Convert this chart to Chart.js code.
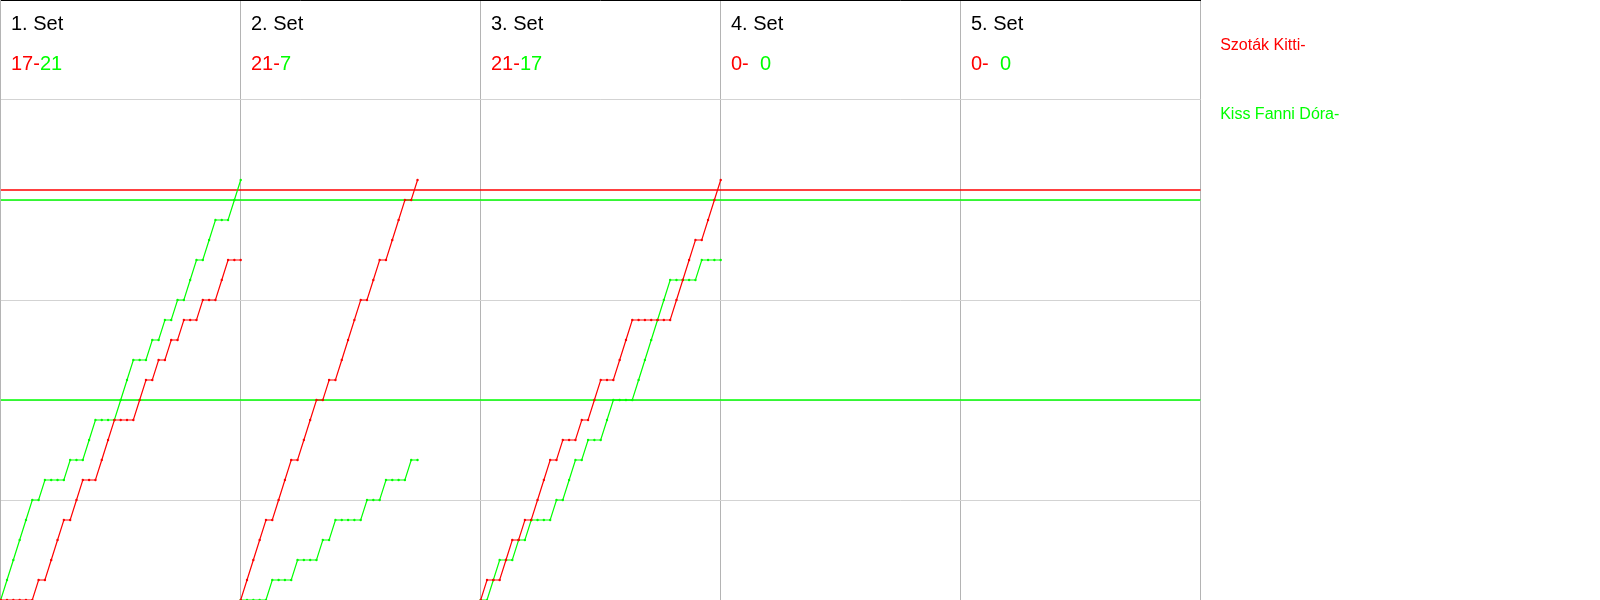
<!DOCTYPE html>
<html>
<head>
<meta charset="utf-8">
<script src="https://cdn.jsdelivr.net/npm/chart.js@4.4.1/dist/chart.umd.min.js"></script>
<style>
  html, body { margin: 0; padding: 0; background: #ffffff; }
  #wrap { position: absolute; left: 0; top: 0; width: 1600px; height: 600px; }
</style>
</head>
<body>
<div id="wrap"><canvas id="c"></canvas></div>
<script>
// ---- data ----
const setTitles = ['1. Set', '2. Set', '3. Set', '4. Set', '5. Set'];
const playerRed = 'Szoták Kitti';
const playerGreen = 'Kiss Fanni Dóra';
const finalRed = [17, 21, 21, 0, 0];
const finalGreen = [21, 7, 17, 0, 0];

// cumulative score after each rally (index 0 = start of set)
const set1Red   = [0,0,0,0,0,0,1,1,2,3,4,4,5,6,6,6,7,8,9,9,9,9,10,11,11,12,12,13,13,14,14,14,15,15,15,16,17,17,17];
const set1Green = [0,1,2,3,4,5,5,6,6,6,6,7,7,7,8,9,9,9,9,10,11,12,12,12,13,13,14,14,15,15,16,17,17,18,19,19,19,20,21];
const set2Red   = [0,1,2,3,4,4,5,6,7,7,8,9,10,10,11,11,12,13,14,15,15,16,17,17,18,19,20,20,21];
const set2Green = [0,0,0,0,0,1,1,1,1,2,2,2,2,3,3,4,4,4,4,4,5,5,5,6,6,6,6,7,7];
const set3Red   = [0,1,1,1,2,3,3,4,4,5,6,7,7,8,8,8,9,9,10,11,11,11,12,13,14,14,14,14,14,14,14,15,16,17,18,18,19,20,21];
const set3Green = [0,0,1,2,2,2,3,3,4,4,4,4,5,5,6,7,7,8,8,8,9,10,10,10,10,11,12,13,14,15,16,16,16,16,16,17,17,17,17];
const redSeries = [set1Red, set2Red, set3Red, [], []];
const greenSeries = [set1Green, set2Green, set3Green, [], []];

const setBoundaries = [0, 38, 76, 114, 152, 190]; // rally axis positions of set starts
const redRefLines = [20.5];
const greenRefLines = [10, 20];
const yTicksStep = 5;

// ---- build ----
const RED = '#ff0000', GREEN = '#00ff00';
const FONT = '"Liberation Sans", Arial, sans-serif';
const xMin = setBoundaries[0], xMax = setBoundaries[setBoundaries.length - 1];

function toPoints(arr, offset) { return arr.map((v, i) => ({ x: offset + i, y: v })); }

const datasets = [];
greenRefLines.forEach(v => datasets.push({
  data: [{ x: xMin, y: v }, { x: xMax, y: v }], borderColor: GREEN, borderWidth: 1.3,
  pointRadius: 0, order: 5
}));
redRefLines.forEach(v => datasets.push({
  data: [{ x: xMin, y: v }, { x: xMax, y: v }], borderColor: RED, borderWidth: 1.3,
  pointRadius: 0, order: 5
}));
for (let s = 0; s < setTitles.length; s++) {
  const off = setBoundaries[s];
  if (greenSeries[s].length) datasets.push({
    data: toPoints(greenSeries[s], off), borderColor: GREEN, backgroundColor: GREEN,
    borderWidth: 1.2, pointRadius: 1.2, pointBorderWidth: 0, pointBackgroundColor: GREEN, clip: false, order: 2
  });
  if (redSeries[s].length) datasets.push({
    data: toPoints(redSeries[s], off), borderColor: RED, backgroundColor: RED,
    borderWidth: 1.2, pointRadius: 1.2, pointBorderWidth: 0, pointBackgroundColor: RED, clip: false, order: 1
  });
}

const textPlugin = {
  id: 'texts',
  afterDraw(chart) {
    const ctx = chart.ctx;
    const xs = chart.scales.x;
    ctx.save();
    ctx.textBaseline = 'alphabetic';
    ctx.textAlign = 'left';
    ctx.font = '20px ' + FONT;
    for (let s = 0; s < setTitles.length; s++) {
      const x0 = xs.getPixelForValue(setBoundaries[s]) + 10.3;
      ctx.fillStyle = '#000000';
      ctx.fillText(setTitles[s], x0, 30);
      const played = redSeries[s].length > 0;
      const rTxt = finalRed[s] + '-';
      const gTxt = played ? String(finalGreen[s]) : '  ' + finalGreen[s];
      ctx.fillStyle = RED;
      ctx.fillText(rTxt, x0, 70);
      const w = ctx.measureText(rTxt).width;
      ctx.fillStyle = GREEN;
      ctx.fillText(gTxt, x0 + w, 70);
    }
    ctx.font = '16px ' + FONT;
    const lx = chart.chartArea.right + 19.5;
    ctx.fillStyle = RED;
    ctx.fillText(playerRed + '-', lx, 50);
    ctx.fillStyle = GREEN;
    ctx.fillText(playerGreen + '-', lx, 119);
    ctx.restore();
  }
};

new Chart(document.getElementById('c'), {
  type: 'line',
  data: { datasets },
  options: {
    responsive: true,
    maintainAspectRatio: false,
    animation: false,
    devicePixelRatio: 1,
    layout: { autoPadding: false, padding: { left: 0.7, right: 399.3, top: 0, bottom: 0 } },
    plugins: { legend: { display: false }, tooltip: { enabled: false }, title: { display: false } },
    elements: { line: { tension: 0 } },
    scales: {
      x: {
        type: 'linear', position: 'top', min: xMin, max: xMax,
        afterBuildTicks: (scale) => { scale.ticks = setBoundaries.map(v => ({ value: v })); },
        ticks: { display: false },
        grid: { color: '#b4b4b4', lineWidth: 1, drawTicks: false },
        border: { display: true, color: '#000000', width: 1 }
      },
      y: {
        type: 'linear', position: 'left', min: 0, max: 30,
        ticks: { display: false, stepSize: yTicksStep },
        grid: { color: '#d3d3d3', lineWidth: 1, drawTicks: false },
        border: { display: true, color: '#b4b4b4', width: 1 }
      }
    }
  },
  plugins: [textPlugin]
});
</script>
</body>
</html>
